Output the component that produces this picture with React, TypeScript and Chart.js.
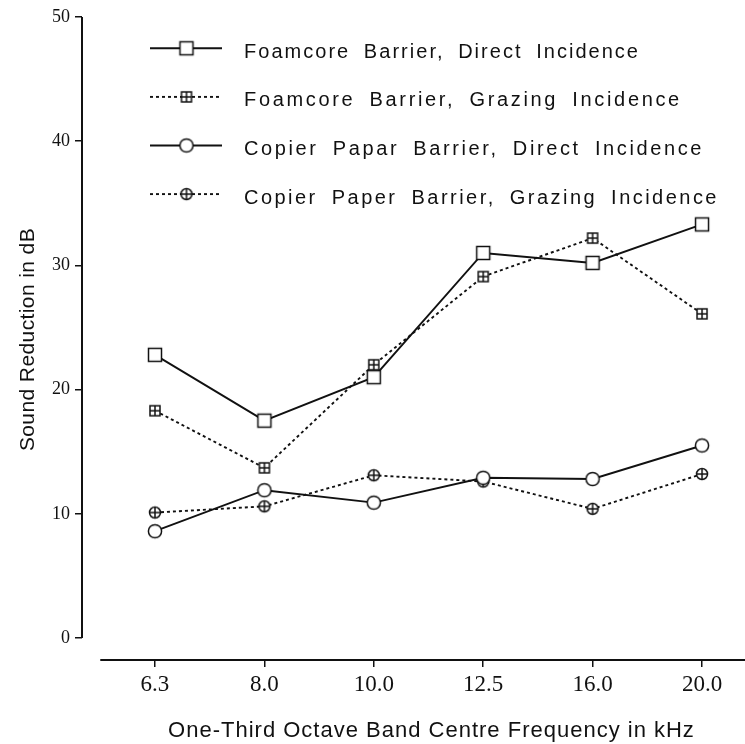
import React, { useEffect, useRef } from 'react';
import { Chart, registerables } from 'chart.js';

Chart.register(...registerables);

// ---- data ----
const categories = ['6.3', '8.0', '10.0', '12.5', '16.0', '20.0'];
const foamcoreDirect = [22.8, 17.5, 21.0, 31.0, 30.2, 33.3];
const foamcoreGrazing = [18.3, 13.7, 22.0, 29.1, 32.2, 26.1];
const copierDirect = [8.6, 11.9, 10.9, 12.9, 12.8, 15.5];
const copierGrazing = [10.1, 10.6, 13.1, 12.6, 10.4, 13.2];
const yTickValues = [0, 10, 20, 30, 40, 50];
const seriesLabels = [
  'Foamcore Barrier, Direct Incidence',
  'Foamcore Barrier, Grazing Incidence',
  'Copier Papar Barrier, Direct Incidence',
  'Copier Paper Barrier, Grazing Incidence',
];
const xTitle = 'One-Third Octave Band Centre Frequency in kHz';
const yTitle = 'Sound Reduction in dB';

const INK = '#111';
// measured widths of the legend text rows in the scanned figure
const legendTextWidths = [396, 438, 460, 475];

function makeMarker(kind: string): HTMLCanvasElement {
  const s = 18;
  const c = document.createElement('canvas');
  c.width = s;
  c.height = s;
  const ctx = c.getContext('2d')!;
  ctx.fillStyle = '#fff';
  ctx.strokeStyle = INK;
  ctx.lineWidth = 1.5;
  const m = s / 2;
  if (kind.startsWith('square')) {
    const h = kind === 'squarePlus' ? 5 : 6.5;
    ctx.fillRect(m - h, m - h, 2 * h, 2 * h);
    ctx.strokeRect(m - h, m - h, 2 * h, 2 * h);
    if (kind === 'squarePlus') {
      ctx.beginPath();
      ctx.moveTo(m, m - h);
      ctx.lineTo(m, m + h);
      ctx.moveTo(m - h, m);
      ctx.lineTo(m + h, m);
      ctx.stroke();
    }
  } else {
    const r = kind === 'circlePlus' ? 5.5 : 6.6;
    ctx.beginPath();
    ctx.arc(m, m, r, 0, Math.PI * 2);
    ctx.fill();
    ctx.stroke();
    if (kind === 'circlePlus') {
      ctx.beginPath();
      ctx.moveTo(m, m - r);
      ctx.lineTo(m, m + r);
      ctx.moveTo(m - r, m);
      ctx.lineTo(m + r, m);
      ctx.stroke();
    }
  }
  return c;
}

export default function App() {
  const ref = useRef<HTMLCanvasElement>(null);

  useEffect(() => {
    const markerKinds = ['square', 'squarePlus', 'circle', 'circlePlus'];
    const values = [foamcoreDirect, foamcoreGrazing, copierDirect, copierGrazing];
    const dashes = [[], [3, 3], [], [3, 3]];

    const datasets = values.map((vals, k) => ({
      label: seriesLabels[k],
      data: vals.map((v, i) => ({ x: i, y: v })),
      borderColor: INK,
      backgroundColor: '#fff',
      borderWidth: 1.9,
      borderDash: dashes[k],
      pointStyle: makeMarker(markerKinds[k]),
      pointRadius: 7,
      tension: 0,
      fill: false,
    }));

    const axisLines = {
      id: 'axisLines',
      beforeDatasetsDraw(chart: any) {
        const { ctx, chartArea, scales } = chart;
        const ys = scales.y;
        const xs = scales.x;
        ctx.save();
        ctx.strokeStyle = INK;
        ctx.lineWidth = 2;
        ctx.beginPath();
        ctx.moveTo(chartArea.left, ys.getPixelForValue(50));
        ctx.lineTo(chartArea.left, ys.getPixelForValue(0));
        ctx.stroke();
        ctx.beginPath();
        ctx.moveTo(xs.getPixelForValue(-0.5), chartArea.bottom);
        ctx.lineTo(chartArea.right, chartArea.bottom);
        ctx.stroke();
        ctx.restore();
      },
    };

    const titlesAndLegend = {
      id: 'titlesAndLegend',
      afterDatasetsDraw(chart: any) {
        const { ctx, scales } = chart;
        const xs = scales.x;
        const ys = scales.y;

        // legend
        chart.data.datasets.forEach((ds: any, i: number) => {
          const y = 48.3 + i * 48.6;
          ctx.save();
          ctx.strokeStyle = ds.borderColor;
          ctx.lineWidth = ds.borderWidth;
          ctx.setLineDash(ds.borderDash || []);
          ctx.beginPath();
          ctx.moveTo(150, y);
          ctx.lineTo(222, y);
          ctx.stroke();
          const img = ds.pointStyle as HTMLCanvasElement;
          ctx.drawImage(img, 186.5 - img.width / 2, y - img.height / 2);
          ctx.fillStyle = INK;
          ctx.font = '20px "Liberation Sans"';
          (ctx as any).wordSpacing = '6px';
          (ctx as any).letterSpacing = '0px';
          const base = ctx.measureText(ds.label).width;
          const ls = Math.max(0, (legendTextWidths[i] - base) / ds.label.length);
          (ctx as any).letterSpacing = ls.toFixed(2) + 'px';
          ctx.textBaseline = 'alphabetic';
          ctx.textAlign = 'left';
          ctx.fillText(ds.label, 244, y + 9.5);
          ctx.restore();
        });

        // x axis title
        ctx.save();
        ctx.fillStyle = INK;
        ctx.font = '22px "Liberation Sans"';
        (ctx as any).letterSpacing = '1px';
        ctx.textAlign = 'center';
        ctx.textBaseline = 'alphabetic';
        ctx.fillText(xTitle, (xs.getPixelForValue(0) + xs.getPixelForValue(5)) / 2 + 3, 737);
        ctx.restore();

        // y axis title
        ctx.save();
        ctx.fillStyle = INK;
        ctx.font = '21px "Liberation Sans"';
        (ctx as any).letterSpacing = '0.4px';
        ctx.textAlign = 'center';
        ctx.textBaseline = 'alphabetic';
        ctx.translate(34, (ys.getPixelForValue(0) + ys.getPixelForValue(50)) / 2 + 12);
        ctx.rotate(-Math.PI / 2);
        ctx.fillText(yTitle, 0, 0);
        ctx.restore();
      },
    };

    const chart = new Chart(ref.current!, {
      type: 'line',
      data: { datasets: datasets as any },
      options: {
        animation: false,
        responsive: true,
        maintainAspectRatio: false,
        layout: { autoPadding: false, padding: { top: 17, right: 0, bottom: 0, left: 0 } },
        plugins: {
          legend: { display: false },
          tooltip: { enabled: false },
        },
        scales: {
          x: {
            type: 'linear',
            min: -0.667,
            max: 5.393,
            afterBuildTicks: (s: any) => {
              s.ticks = categories.map((_, i) => ({ value: i }));
            },
            afterFit: (s: any) => {
              s.height = 84;
              s.paddingLeft = 0;
              s.paddingRight = 0;
            },
            grid: {
              drawOnChartArea: false,
              drawTicks: true,
              tickLength: 7,
              color: INK,
              lineWidth: 1.5,
            },
            border: { display: false },
            ticks: {
              autoSkip: false,
              maxRotation: 0,
              padding: 4,
              color: INK,
              font: { family: 'Liberation Serif', size: 23 },
              callback: (v: any) => categories[v] ?? '',
            },
            title: { display: false },
          },
          y: {
            type: 'linear',
            min: -1.771,
            max: 50,
            afterBuildTicks: (s: any) => {
              s.ticks = yTickValues.map((v) => ({ value: v }));
            },
            afterFit: (s: any) => {
              s.width = 82;
              s.paddingTop = 0;
              s.paddingBottom = 0;
            },
            grid: {
              drawOnChartArea: false,
              drawTicks: true,
              tickLength: 7,
              color: INK,
              lineWidth: 1.5,
            },
            border: { display: false },
            ticks: {
              padding: 5,
              color: INK,
              font: { family: 'Liberation Serif', size: 18 },
              callback: (v: any) => String(v),
            },
            title: { display: false },
          },
        },
      },
      plugins: [axisLines, titlesAndLegend],
    });
    return () => chart.destroy();
  }, []);

  return (
    <div style={{ position: 'absolute', left: 0, top: 0, width: 745, height: 744, background: '#fff' }}>
      <canvas ref={ref} />
    </div>
  );
}
